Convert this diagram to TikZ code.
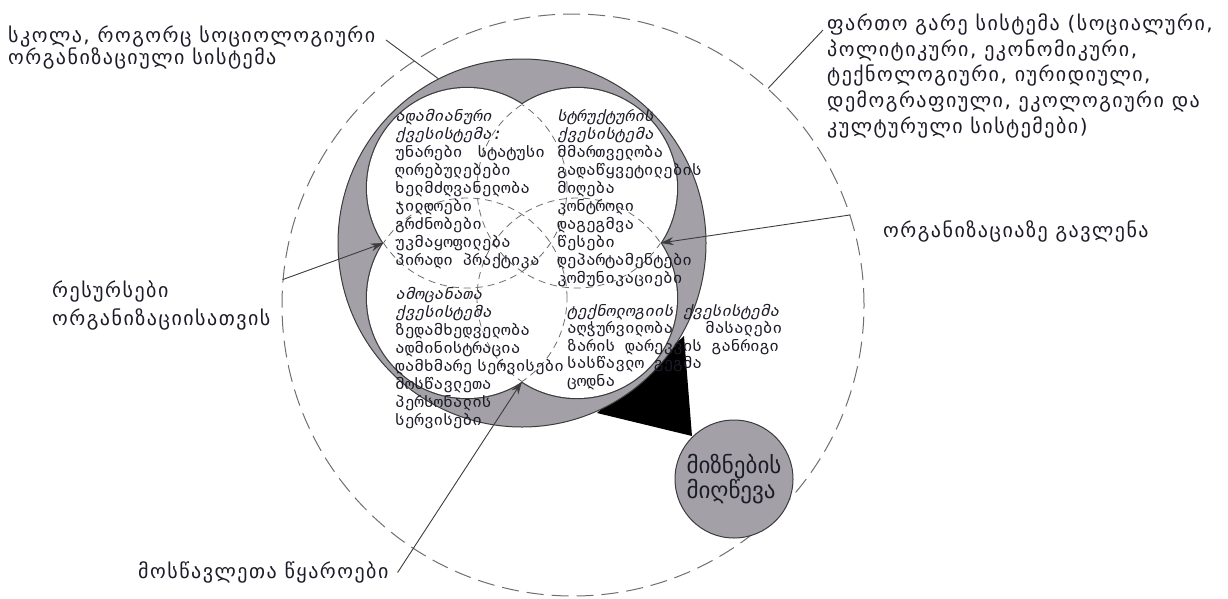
\documentclass[tikz,border=0pt]{standalone}
\usepackage{fontspec}
\setmainfont{DejaVu Sans}
\newfontfamily\geowide[LetterSpace=7.5]{DejaVu Sans}
\newfontfamily\geomono{DejaVu Sans Mono}
\newfontfamily\geomonoit[FakeSlant=0.22]{DejaVu Sans Mono}
\usetikzlibrary{arrows.meta}
\definecolor{ringgray}{RGB}{163,161,167}
\definecolor{edge}{RGB}{60,60,60}
\definecolor{txt}{RGB}{28,28,40}
\definecolor{dashgray}{RGB}{110,110,110}
\tikzset{
 outerlbl/.style={inner sep=0pt, align=left, anchor=base west, text=txt},
 innerlbl/.style={inner sep=0pt, align=left, anchor=base west, text=txt},
 conn/.style={draw=edge, line width=0.9pt},
 arr/.style={conn, -{Stealth[length=13pt,width=8pt]}},
 subsys/.style={line width=2.4pt, draw=edge},
 innerdash/.style={draw=dashgray, line width=0.8pt, dash pattern=on 7pt off 5pt},
}
\newcommand{\innerfont}[1]{\geomono\fontsize{16}{#1}\selectfont\lineskiplimit=-100pt\lineskip=0pt}
\newcommand{\outerfont}[1]{\geowide\fontsize{20}{#1}\selectfont\lineskiplimit=-100pt\lineskip=0pt}
\begin{document}
\begin{tikzpicture}[x=1pt,y=-1pt]
\useasboundingbox (0,0) rectangle (1228,598);
% outer environment
\node[circle, draw=dashgray, line width=1pt, dash pattern=on 17pt off 8pt, minimum size=582pt, inner sep=0pt] (outer) at (573,305) {};
% big black arrow (behind the school circle)
\fill[black] (569,331) -- (621.5,391.3) -- (597,413) -- (692,436) -- (684,336) -- (659.5,358.7) -- (607,298) -- cycle;
% school ring
\node[circle, fill=ringgray, draw=edge, line width=1pt, minimum size=368pt, inner sep=0pt] (school) at (522,243) {};
% four subsystems
\coordinate (tl) at (467,188);
\coordinate (tr) at (577,188);
\coordinate (bl) at (467,298);
\coordinate (br) at (577,298);
\foreach \c in {tl,tr,bl,br} \draw[subsys] (\c) circle[radius=100pt];
\foreach \c in {tl,tr,bl,br} \fill[white] (\c) circle[radius=100pt];
\begin{scope}
\clip (tr) circle[radius=100pt] (bl) circle[radius=100pt] (br) circle[radius=100pt];
\draw[innerdash] (tl) circle[radius=100pt];
\end{scope}
\begin{scope}
\clip (tl) circle[radius=100pt] (bl) circle[radius=100pt] (br) circle[radius=100pt];
\draw[innerdash] (tr) circle[radius=100pt];
\end{scope}
\begin{scope}
\clip (tl) circle[radius=100pt] (tr) circle[radius=100pt] (br) circle[radius=100pt];
\draw[innerdash] (bl) circle[radius=100pt];
\end{scope}
\begin{scope}
\clip (tl) circle[radius=100pt] (tr) circle[radius=100pt] (bl) circle[radius=100pt];
\draw[innerdash] (br) circle[radius=100pt];
\end{scope}
\coordinate (notchL) at (383.5,243);
\coordinate (notchR) at (660.5,243);
\coordinate (notchB) at (522,381.5);
% subsystem texts (anchor = baseline of last line)
\node[innerlbl, font=\innerfont{18}] (subHuman) at (395,265) {{\geomonoit ადამიანური}\\{\geomonoit ქვესისტემა:}\\უნარები\hspace{15pt}სტატუსი\\ღირებულებები\\ხელმძღვანელობა\\ჯილდოები\\გრძნობები\\უკმაყოფილება\\პირადი პრაქტიკა};
\node[innerlbl, font=\innerfont{18}] (subStruct) at (557,283) {{\geomonoit სტრუქტურის}\\{\geomonoit ქვესისტემა}\\მმართველობა\\გადაწყვეტილების\\მიღება\\კონტროლი\\დაგეგმვა\\წესები\\დეპარტამენტები\\კომუნიკაციები};
\node[innerlbl, font=\innerfont{18}] (subTask) at (395,425) {{\geomonoit ამოცანათა}\\{\geomonoit ქვესისტემა}\\ზედამხედველობა\\ადმინისტრაცია\\დამხმარე\hspace{5pt}სერვისები\\მოსწავლეთა\\პერსონალის\\სერვისები};
\node[innerlbl, font=\innerfont{17.5}] (subTech) at (567,386) {{\geomonoit ტექნოლოგიის ქვესისტემა}\\აღჭურვილობა\hspace{32pt}მასალები\\ზარის დარეკვის განრიგი\\სასწავლო გეგმა\\ცოდნა};
% goal
\node[circle, fill=ringgray, draw=edge, line width=1pt, minimum size=118pt, inner sep=0pt, align=left, text=txt, font={\fontsize{23}{25}\selectfont\lineskiplimit=-100pt}] (goal) at (734,479) {მიზნების\\მიღწევა};
% outer labels
\node[outerlbl, font=\outerfont{22}] (lblSchool) at (8,64.5) {სკოლა, როგორც სოციოლოგიური\\ორგანიზაციული სისტემა};
\coordinate (lblSchoolEnd) at (386,40);
\draw[conn] (lblSchoolEnd) -- (school.117.5);
\node[outerlbl, font=\outerfont{25.7}] (lblOuter) at (827,133.3) {ფართო გარე სისტემა (სოციალური,\\პოლიტიკური, ეკონომიკური,\\ტექნოლოგიური, იურიდიული,\\დემოგრაფიული, ეკოლოგიური და\\კულტურული სისტემები)};
\coordinate (lblOuterStart) at (823,30);
\draw[conn] (lblOuterStart) -- (outer.48.5);
\node[outerlbl, font=\outerfont{25}] (lblInfl) at (883,237.5) {ორგანიზაციაზე გავლენა};
\draw[arr] (outer.18) -- (notchR);
\node[outerlbl, font=\outerfont{28}] (lblRes) at (52,325.5) {რესურსები\\ორგანიზაციისათვის};
\draw[arr] (outer.175) -- (notchL);
\node[outerlbl, font=\outerfont{25}] (lblStud) at (138,578.5) {მოსწავლეთა წყაროები};
\draw[arr] ([xshift=9pt]lblStud.east) -- (notchB);
\end{tikzpicture}
\end{document}
